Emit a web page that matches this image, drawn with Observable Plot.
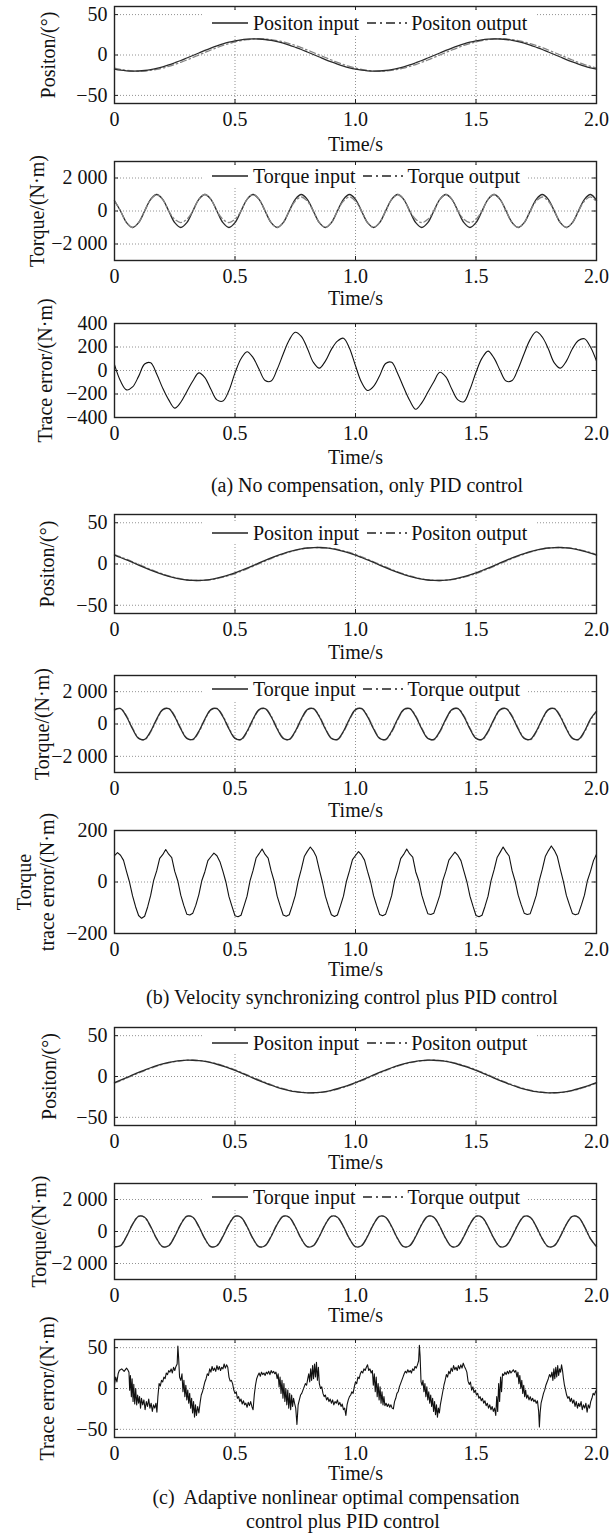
<!DOCTYPE html>
<html><head><meta charset="utf-8">
<script src="https://cdn.jsdelivr.net/npm/d3@7"></script>
<script src="https://cdn.jsdelivr.net/npm/@observablehq/plot@0.6"></script>
<style>
body{margin:0;background:#fff;}
#fig{position:relative;width:614px;height:1535px;overflow:hidden;background:#fff;font-family:"Liberation Serif","Times New Roman",Times,serif;color:#111;}
#fig svg{position:absolute;left:0;}
#fig svg text{font-family:"Liberation Serif","Times New Roman",Times,serif;}
.legend{position:absolute;background:#fff;font-size:20px;line-height:22px;height:22px;display:flex;align-items:center;white-space:nowrap;padding:0 8px;}
.legend svg{position:static !important;}
.caption{position:absolute;font-size:20px;line-height:22px;white-space:pre;transform:translateX(-50%);}
</style></head><body><div id="fig"></div>
<script>
// ---------- tick values / labels ----------
const xTicks = [0, 0.5, 1.0, 1.5, 2.0];
const xTickLabels = ["0", "0.5", "1.0", "1.5", "2.0"];
const posTicks = [-50, 0, 50];
const torqueTicks = [-2000, 0, 2000];
const errTicksA = [-400, -200, 0, 200, 400];
const errTicksB = [-200, 0, 200];
const errTicksC = [-50, 0, 50];

// sample times (s)
const sampleTimes = d3.range(81).map(i => +(i * 0.025).toFixed(4));
const fineTimes = d3.range(161).map(i => +(i * 0.0125).toFixed(4));

// ---------- (a) no compensation ----------
const posInA = [-17.5,-18.8,-19.6,-20,-19.8,-19.2,-18.1,-16.5,-14.6,-12.3,-9.6,-6.8,-3.7,-0.6,2.5,5.6,8.5,11.2,13.7,15.8,17.5,18.8,19.6,20,19.8,19.2,18.1,16.5,14.6,12.3,9.6,6.8,3.7,0.6,-2.5,-5.6,-8.5,-11.2,-13.7,-15.8,-17.5,
 -18.8,-19.6,-20,-19.8,-19.2,-18.1,-16.5,-14.6,-12.3,-9.6,-6.8,-3.7,-0.6,2.5,5.6,8.5,11.2,13.7,15.8,17.5,18.8,19.6,20,19.8,19.2,18.1,16.5,14.6,12.3,9.6,6.8,3.7,0.6,-2.5,-5.6,-8.5,-11.2,-13.7,-15.8,-17.5];
const posOutA = [-16.2,-17.8,-19.0,-19.8,-20,-19.8,-19.0,-17.8,-16.2,-14.1,-11.8,-9.1,-6.2,-3.1,0,3.1,6.2,9.1,11.8,14.1,16.2,17.8,19.0,19.8,20,19.8,19.0,17.8,16.2,14.1,11.8,9.1,6.2,3.1,0,-3.1,-6.2,-9.1,-11.8,-14.1,-16.2,
 -17.8,-19.0,-19.8,-20,-19.8,-19.0,-17.8,-16.2,-14.1,-11.8,-9.1,-6.2,-3.1,0,3.1,6.2,9.1,11.8,14.1,16.2,17.8,19.0,19.8,20,19.8,19.0,17.8,16.2,14.1,11.8,9.1,6.2,3.1,0,-3.1,-6.2,-9.1,-11.8,-14.1,-16.2];
const torqueInA = [620,0,-707,-1000,-707,0,707,1000, 707,0,-707,-1000,-707,0,707,1000, 707,0,-707,-1000,-707,0,707,1000, 707,0,-707,-1000,-707,0,707,1000, 707,0,-707,-1000,-707,0,707,1000,
 707,0,-707,-1000,-707,0,707,1000, 707,0,-707,-1000,-707,0,707,1000, 707,0,-707,-1000,-707,0,707,1000, 707,0,-707,-1000,-707,0,707,1000, 707,0,-707,-1000,-707,0,707,1000, 640];
const torqueOutA = [620,0,-707,-1000,-707,0,707,1000, 707,0,-500,-700,-500,0,707,1000, 707,0,-500,-700,-500,0,707,1000, 707,0,-707,-1000,-707,0,600,850, 600,0,-707,-1000,-707,0,600,850,
 600,0,-707,-1000,-707,0,707,1000, 707,0,-500,-700,-500,0,707,1000, 707,0,-500,-700,-500,0,707,1000, 707,0,-707,-1000,-707,0,600,850, 600,0,-707,-1000,-707,0,600,850, 560];
const errA = [50,-90,-165,-140,-50,55,65,-30,-150,-250,-320,-270,-180,-90,-20,-60,-160,-250,-260,-170,-20,100,160,110,10,-85,-90,10,140,260,325,290,190,70,20,80,180,250,275,190,40,
 -100,-170,-135,-45,60,70,-25,-145,-255,-330,-275,-185,-95,-15,-55,-160,-250,-265,-160,-15,105,165,105,0,-90,-85,15,145,265,330,285,185,65,20,80,185,255,270,200,80];

// ---------- (b) velocity synchronizing ----------
const posInB = [10.7,7.9,5.0,1.9,-1.3,-4.4,-7.4,-10.2,-12.7,-15.0,-16.9,-18.4,-19.4,-19.9,-20.0,-19.5,-18.6,-17.2,-15.4,-13.2,-10.7,-7.9,-5.0,-1.9,1.3,4.4,7.4,10.2,12.7,15.0,16.9,18.4,19.4,19.9,20.0,19.5,18.6,17.2,15.4,13.2,10.7,
 7.9,5.0,1.9,-1.3,-4.4,-7.4,-10.2,-12.7,-15.0,-16.9,-18.4,-19.4,-19.9,-20.0,-19.5,-18.6,-17.2,-15.4,-13.2,-10.7,-7.9,-5.0,-1.9,1.3,4.4,7.4,10.2,12.7,15.0,16.9,18.4,19.4,19.9,20.0,19.5,18.6,17.2,15.4,13.2,10.7];
const posOutB = [11.4,8.7,5.8,2.7,-0.5,-3.6,-6.6,-9.4,-12.0,-14.4,-16.4,-18.0,-19.2,-19.8,-20.0,-19.7,-19.0,-17.8,-16.0,-14.0,-11.6,-8.8,-5.9,-2.8,0.4,3.5,6.6,9.4,12.0,14.4,16.4,18.0,19.2,19.8,20.0,19.7,19.0,17.8,16.0,14.0,11.5,
 8.7,5.8,2.7,-0.5,-3.6,-6.6,-9.4,-12.0,-14.4,-16.4,-18.0,-19.2,-19.8,-20.0,-19.7,-19.0,-17.8,-16.0,-14.0,-11.6,-8.8,-5.9,-2.8,0.4,3.5,6.6,9.4,12.0,14.4,16.4,18.0,19.2,19.8,20.0,19.7,19.0,17.8,16.0,14.0,11.5];
const torqueInB = [890,950,450,-310,-890,-950,-450,310, 890,950,450,-310,-890,-950,-450,310, 890,950,450,-310,-890,-950,-450,310, 890,950,450,-310,-890,-950,-450,310, 890,950,450,-310,-890,-950,-450,310,
 890,950,450,-310,-890,-950,-450,310, 890,950,450,-310,-890,-950,-450,310, 890,950,450,-310,-890,-950,-450,310, 890,950,450,-310,-890,-950,-450,310, 890,950,450,-310,-890,-950,-450,310, 800];
const torqueOutB = [860,960,500,-250,-860,-980,-500,250, 860,960,500,-250,-860,-980,-500,250, 860,960,500,-250,-860,-980,-500,250, 860,960,500,-250,-860,-980,-500,250, 860,960,500,-250,-860,-980,-500,250,
 860,960,500,-250,-860,-980,-500,250, 860,960,500,-250,-860,-980,-500,250, 860,960,500,-250,-860,-980,-500,250, 860,960,500,-250,-860,-980,-500,250, 860,960,500,-250,-860,-980,-500,250, 760];
const errB = [102,114,104,84,40,-1,-54,-96,-130,-141,-133,-97,-52,6,43,92,
 106,126,108,95,41,5,-51,-91,-125,-128,-121,-90,-49,6,40,83,
 98,112,102,79,41,-1,-57,-95,-131,-135,-129,-93,-55,5,45,93,
 110,128,107,93,43,3,-55,-93,-128,-133,-127,-92,-53,5,49,99,
 119,136,121,98,47,1,-55,-93,-127,-134,-128,-93,-55,3,43,87,
 103,118,105,85,41,1,-53,-91,-126,-131,-125,-91,-53,7,45,91,
 107,128,109,97,39,5,-51,-89,-123,-126,-121,-87,-51,6,42,85,
 101,116,103,83,41,0,-55,-94,-130,-135,-129,-94,-55,5,47,95,
 115,136,117,101,43,3,-51,-88,-121,-126,-123,-89,-52,5,49,99,
 121,140,123,99,49,2,-52,-88,-122,-127,-123,-89,-51,6,41,83,
 108];

// ---------- (c) adaptive nonlinear optimal compensation ----------
const posInC = [-7.4,-4.4,-1.3,1.9,5.0,7.9,10.7,13.2,15.4,17.2,18.6,19.5,20.0,19.9,19.4,18.4,16.9,15.0,12.7,10.2,7.4,4.4,1.3,-1.9,-5.0,-7.9,-10.7,-13.2,-15.4,-17.2,-18.6,-19.5,-20.0,-19.9,-19.4,-18.4,-16.9,-15.0,-12.7,-10.2,-7.4,
 -4.4,-1.3,1.9,5.0,7.9,10.7,13.2,15.4,17.2,18.6,19.5,20.0,19.9,19.4,18.4,16.9,15.0,12.7,10.2,7.4,4.4,1.3,-1.9,-5.0,-7.9,-10.7,-13.2,-15.4,-17.2,-18.6,-19.5,-20.0,-19.9,-19.4,-18.4,-16.9,-15.0,-12.7,-10.2,-7.4];
const posOutC = [-8.0,-5.2,-2.1,1.1,4.2,7.2,10.0,12.6,14.9,16.8,18.3,19.3,19.9,20.0,19.6,18.8,17.4,15.6,13.4,11.0,8.2,5.2,2.1,-1.1,-4.2,-7.2,-10.0,-12.6,-14.9,-16.8,-18.3,-19.3,-19.9,-20.0,-19.6,-18.8,-17.4,-15.6,-13.4,-11.0,-8.0,
 -5.2,-2.1,1.1,4.2,7.2,10.0,12.6,14.9,16.8,18.3,19.3,19.9,20.0,19.6,18.8,17.4,15.6,13.4,11.0,8.2,5.2,2.1,-1.1,-4.2,-7.2,-10.0,-12.6,-14.9,-16.8,-18.3,-19.3,-19.9,-20.0,-19.6,-18.8,-17.4,-15.6,-13.4,-11.0,-8.0];
const torqueInC = [-950,-890,-310,450,950,890,310,-450, -950,-890,-310,450,950,890,310,-450, -950,-890,-310,450,950,890,310,-450, -950,-890,-310,450,950,890,310,-450, -950,-890,-310,450,950,890,310,-450,
 -950,-890,-310,450,950,890,310,-450, -950,-890,-310,450,950,890,310,-450, -950,-890,-310,450,950,890,310,-450, -950,-890,-310,450,950,890,310,-450, -950,-890,-310,450,950,890,310,-450, -950];
const torqueOutC = [-960,-870,-280,470,960,880,290,-470, -960,-870,-280,470,960,880,290,-470, -960,-870,-280,470,960,880,290,-470, -960,-870,-280,470,960,880,290,-470, -960,-870,-280,470,960,880,290,-470,
 -960,-870,-280,470,960,880,290,-470, -960,-870,-280,470,960,880,290,-470, -960,-870,-280,470,960,880,290,-470, -960,-870,-280,470,960,880,290,-470, -960,-870,-280,470,960,880,290,-470, -960];
// [time, error]
const errC = [[0,5],[0.005,14],[0.01,8],[0.015,18],[0.02,22],[0.03,24],[0.04,21],[0.05,25],[0.055,23],
 [0.06,20],[0.063,-2],[0.066,16],[0.07,-10],[0.073,12],[0.077,-16],[0.08,5],[0.084,-19],[0.088,0],[0.092,-20],
 [0.096,-8],[0.1,-18],[0.104,-10],[0.108,-24],[0.112,-12],[0.117,-20],[0.122,-14],[0.127,-26],[0.132,-16],[0.137,-22],[0.142,-13],[0.147,-24],[0.152,-18],[0.157,-28],[0.162,-20],[0.167,-24],[0.172,-18],[0.176,-29],
 [0.18,-10],[0.185,6],[0.19,3],[0.195,10],[0.2,8],[0.205,14],[0.21,12],[0.215,19],[0.22,17],[0.225,22],[0.23,20],[0.235,24],[0.24,19],[0.245,26],[0.25,22],[0.255,27],[0.26,30],[0.263,52],[0.266,38],[0.27,14],[0.275,10],
 [0.28,18],[0.284,-4],[0.288,10],[0.292,-10],[0.296,4],[0.3,-14],[0.304,-2],[0.308,-18],[0.312,-6],[0.316,-24],[0.32,-12],[0.324,-30],[0.328,-16],[0.332,-35],[0.336,-20],[0.34,-33],[0.345,-22],[0.35,-30],
 [0.355,-18],[0.36,-8],[0.365,-4],[0.37,2],[0.375,8],[0.38,12],[0.385,18],[0.39,16],[0.395,24],[0.4,20],[0.405,27],[0.41,22],[0.415,25],[0.42,21],[0.425,28],[0.43,23],[0.435,27],[0.44,22],[0.445,26],[0.45,24],[0.455,30],[0.46,25],[0.465,29],[0.47,26],[0.475,14],[0.48,9],
 [0.485,10],[0.49,6],[0.495,-2],[0.5,-6],[0.505,-4],[0.51,-12],[0.515,-10],[0.52,-16],[0.525,-13],[0.53,-19],[0.535,-15],[0.54,-20],[0.545,-18],[0.55,-23],[0.555,-17],[0.56,-21],[0.565,-16],[0.57,-22],[0.575,-26],
 [0.58,-8],[0.585,4],[0.59,12],[0.595,16],[0.6,19],[0.605,15],[0.61,20],[0.615,17],[0.62,19],[0.625,16],[0.63,20],[0.635,18],[0.64,21],[0.645,17],[0.65,22],[0.655,19],[0.66,21],[0.665,18],[0.67,20],
 [0.675,12],[0.679,18],[0.683,2],[0.687,14],[0.691,-6],[0.695,10],[0.699,-12],[0.703,6],[0.707,-16],[0.711,0],[0.715,-20],[0.719,-2],[0.723,-24],[0.727,-6],[0.731,-26],[0.735,-8],[0.739,-22],[0.743,-12],[0.747,-18],[0.752,-24],[0.757,-44],[0.762,-20],
 [0.767,-14],[0.772,-8],[0.777,-6],[0.782,-2],[0.787,2],[0.792,6],[0.797,4],[0.802,12],[0.806,18],
 [0.81,8],[0.814,24],[0.818,10],[0.822,28],[0.826,12],[0.83,30],[0.834,14],[0.838,32],[0.842,10],[0.846,26],[0.85,6],
 [0.855,0],[0.86,2],[0.865,-6],[0.87,-10],[0.875,-8],[0.88,-14],[0.885,-11],[0.89,-16],[0.895,-13],[0.9,-18],[0.905,-14],[0.91,-20],[0.915,-16],[0.92,-18],[0.925,-14],[0.93,-20],[0.935,-17],[0.94,-22],[0.945,-19],[0.95,-26],[0.955,-24],[0.96,-33],[0.965,-20],[0.97,-14],[0.975,-10],[0.98,-8],[0.985,-4],[0.99,-6],
 [0.995,2],[1.0,8],[1.005,6],[1.01,14],[1.015,12],[1.02,18],[1.025,21],[1.03,19],[1.035,24],[1.04,22],[1.045,26],[1.05,29],[1.055,22],[1.06,24],[1.065,19],
 [1.07,22],[1.074,4],[1.078,18],[1.082,-4],[1.086,14],[1.09,-10],[1.094,6],[1.098,-14],[1.102,2],[1.106,-18],[1.11,-4],[1.114,-20],[1.118,-10],
 [1.122,-21],[1.127,-18],[1.132,-22],[1.137,-19],[1.142,-23],[1.147,-20],[1.152,-24],[1.157,-25],
 [1.162,-16],[1.167,-12],[1.172,-6],[1.177,-4],[1.182,2],[1.187,6],[1.192,10],[1.197,14],[1.202,18],[1.207,21],[1.212,19],[1.217,23],[1.222,20],[1.227,22],[1.232,19],[1.237,24],[1.242,22],[1.247,27],[1.252,25],[1.257,29],[1.262,34],[1.265,53],[1.268,40],[1.272,8],[1.276,4],
 [1.28,10],[1.284,-4],[1.288,6],[1.292,-10],[1.296,2],[1.3,-14],[1.304,-4],[1.308,-18],[1.312,-8],[1.316,-22],[1.32,-12],[1.324,-28],[1.328,-16],[1.332,-32],[1.336,-20],[1.34,-35],[1.344,-24],[1.348,-30],
 [1.352,-20],[1.357,-12],[1.362,-4],[1.367,4],[1.372,10],[1.377,17],[1.382,14],[1.387,21],[1.392,18],[1.397,25],[1.402,21],[1.407,28],[1.412,23],[1.417,26],[1.422,22],[1.427,28],[1.432,24],[1.437,29],[1.442,25],[1.447,31],[1.452,27],[1.457,24],[1.462,20],[1.467,9],[1.472,5],[1.477,8],[1.482,-2],[1.487,2],[1.492,-5],[1.497,-2],
 [1.502,-8],[1.507,-6],[1.512,-12],[1.517,-10],[1.522,-15],[1.527,-12],[1.532,-18],[1.537,-15],[1.542,-21],[1.547,-18],[1.552,-24],[1.557,-20],[1.562,-26],[1.567,-22],[1.572,-28],[1.577,-24],[1.582,-33],
 [1.586,-10],[1.59,-28],[1.594,6],[1.598,-16],[1.602,14],[1.606,-4],[1.61,18],
 [1.615,16],[1.62,20],[1.625,17],[1.63,21],[1.635,18],[1.64,22],[1.645,19],[1.65,21],[1.655,23],[1.66,20],[1.665,22],
 [1.67,14],[1.674,20],[1.678,6],[1.682,16],[1.686,0],[1.69,10],[1.694,-6],[1.698,4],[1.702,-10],[1.706,-2],[1.71,-12],[1.715,-8],[1.72,-14],[1.725,-10],[1.73,-15],[1.735,-12],[1.74,-16],[1.745,-14],[1.75,-18],[1.755,-15],[1.76,-28],[1.763,-47],[1.766,-30],[1.77,-18],
 [1.775,-12],[1.78,-6],[1.785,-2],[1.79,4],[1.795,8],[1.8,12],[1.805,17],[1.81,14],
 [1.815,20],[1.819,10],[1.823,24],[1.827,12],[1.831,26],[1.835,14],[1.839,28],[1.843,16],[1.847,24],[1.851,20],[1.855,29],[1.859,22],[1.863,12],[1.867,4],[1.871,-1],
 [1.876,-8],[1.881,-12],[1.886,-10],[1.891,-16],[1.896,-12],[1.901,-18],[1.906,-14],[1.911,-22],[1.916,-16],[1.921,-24],[1.926,-18],[1.931,-22],[1.936,-16],[1.941,-26],[1.946,-20],[1.951,-24],[1.956,-18],[1.961,-29],[1.966,-20],[1.971,-24],[1.976,-16],[1.981,-12],[1.986,-6],[1.991,-8],[1.996,-4],[2.0,-2]];

// ---------- drawing ----------
const FONT = '"Liberation Serif","Times New Roman",Times,serif';
const fig = document.getElementById("fig");
const ML = 114, MR = 18, MT = 4, MB = 64, W = 614;
const plotW = W - ML - MR;
const fmtX = d => xTickLabels[xTicks.indexOf(d)];
const fmtY = d => (d < 0 ? "\u2212" : "") + (Math.abs(d) >= 1000 ? d3.format(",")(Math.abs(d)).replace(",", " ") : String(Math.abs(d)));
const IN_STYLE = {stroke: "#2b2b2b", strokeWidth: 1.3};
const OUT_STYLE = {stroke: "#858585", strokeWidth: 1.3, strokeDasharray: "6,3,1.5,3"};
const ERR_STYLE = {stroke: "#111", strokeWidth: 1.1};

function toRows(times, values) { return values.map((v, i) => ({t: times[i], v})); }

function panel(cfg) {
  const gridStyle = {stroke: "#777", strokeOpacity: 1, strokeDasharray: "1,2", strokeWidth: 0.8};
  const lines = cfg.series.map(s => Plot.line(toRows(s.times, s.values), {x: "t", y: "v", curve: s.curve || "catmull-rom", ...s.style}));
  const svg = Plot.plot({
    width: W, height: MT + cfg.boxH + MB,
    marginLeft: ML, marginRight: MR, marginTop: MT, marginBottom: MB,
    style: {fontFamily: FONT, fontSize: "20px", background: "transparent", color: "#111", overflow: "visible"},
    x: {domain: [0, 2]},
    y: {domain: cfg.yDomain},
    marks: [
      Plot.gridX(xTicks.slice(1, 4), gridStyle),
      Plot.gridY(cfg.yTicks, gridStyle),
      ...lines,
      Plot.frame({stroke: "#222", strokeWidth: 1.4}),
      Plot.tickX(xTicks, {x: d => d, insetTop: cfg.boxH - 4, stroke: "#222"}),
      Plot.tickX(xTicks, {x: d => d, insetBottom: cfg.boxH - 4, stroke: "#222"}),
      Plot.tickY(cfg.yTicks, {y: d => d, insetRight: plotW - 4, stroke: "#222"}),
      Plot.tickY(cfg.yTicks, {y: d => d, insetLeft: plotW - 4, stroke: "#222"}),
      Plot.axisX(xTicks, {tickSize: 0, tickPadding: 8, tickFormat: fmtX, label: null, fontSize: 20}),
      Plot.axisY(cfg.yTicks, {tickSize: 0, tickPadding: 7, tickFormat: fmtY, label: null, fontSize: 20}),
      Plot.text([cfg.ylabel], {frameAnchor: "left", dx: cfg.ylabelDx, rotate: -90, textAnchor: "middle", lineAnchor: "middle", lineHeight: 1.15, fontSize: 20, fill: "#111"}),
      Plot.text(["Time/s"], {frameAnchor: "bottom", dy: cfg.timeDy, lineAnchor: "middle", fontSize: 20, fill: "#111"})
    ]
  });
  svg.style.top = (cfg.top - MT) + "px";
  fig.appendChild(svg);
  if (cfg.legend) {
    const lg = document.createElement("div");
    lg.className = "legend";
    lg.style.left = "204px";
    lg.style.top = (cfg.legend.y - 11) + "px";
    lg.innerHTML =
      `<svg width="36" height="10"><line x1="0" y1="5" x2="36" y2="5" stroke="#222" stroke-width="1.3"/></svg>` +
      `<span style="margin-left:5px">${cfg.legend.a}</span>` +
      `<svg width="40" height="10" style="margin-left:8px"><line x1="0" y1="5" x2="40" y2="5" stroke="#222" stroke-width="1.3" stroke-dasharray="9,4,2,4"/></svg>` +
      `<span style="margin-left:4px">${cfg.legend.b}</span>`;
    fig.appendChild(lg);
  }
}

function caption(text, cx, cy) {
  const d = document.createElement("div");
  d.className = "caption";
  d.textContent = text;
  d.style.left = cx + "px";
  d.style.top = (cy - 11) + "px";
  fig.appendChild(d);
}

const posLegend = {a: "Positon input", b: "Positon output"};
const torqueLegend = {a: "Torque input", b: "Torque output"};
// output drawn first so the solid input stays on top where both coincide
panel({top: 6, boxH: 97, yDomain: [-60, 60], yTicks: posTicks, ylabel: "Positon/(°)", ylabelDx: -67, timeDy: 41,
  series: [{times: sampleTimes, values: posOutA, style: OUT_STYLE}, {times: sampleTimes, values: posInA, style: IN_STYLE}],
  legend: {...posLegend, y: 23}});
panel({top: 161, boxH: 99, yDomain: [-3000, 3000], yTicks: torqueTicks, ylabel: "Torque/(N·m)", ylabelDx: -78, timeDy: 38,
  series: [{times: sampleTimes, values: torqueInA, style: IN_STYLE}, {times: sampleTimes, values: torqueOutA, style: OUT_STYLE}],
  legend: {...torqueLegend, y: 176}});
panel({top: 323, boxH: 94, yDomain: [-400, 400], yTicks: errTicksA, ylabel: "Trace error/(N·m)", ylabelDx: -70, timeDy: 40,
  series: [{times: sampleTimes, values: errA, style: ERR_STYLE}]});
caption("(a) No compensation, only PID control", 367, 485);

panel({top: 514, boxH: 99, yDomain: [-60, 60], yTicks: posTicks, ylabel: "Positon/(°)", ylabelDx: -68, timeDy: 39,
  series: [{times: sampleTimes, values: posOutB, style: OUT_STYLE}, {times: sampleTimes, values: posInB, style: IN_STYLE}],
  legend: {...posLegend, y: 533}});
panel({top: 675, boxH: 97, yDomain: [-3000, 3000], yTicks: torqueTicks, ylabel: "Torque/(N·m)", ylabelDx: -73, timeDy: 38,
  series: [{times: sampleTimes, values: torqueOutB, style: OUT_STYLE}, {times: sampleTimes, values: torqueInB, style: IN_STYLE}],
  legend: {...torqueLegend, y: 689}});
panel({top: 830, boxH: 103, yDomain: [-200, 200], yTicks: errTicksB, ylabel: "Torque\ntrace error/(N·m)", ylabelDx: -79, timeDy: 36,
  series: [{times: fineTimes, values: errB, style: ERR_STYLE, curve: "linear"}]});
caption("(b) Velocity synchronizing control plus PID control", 352, 997);

panel({top: 1027, boxH: 98, yDomain: [-60, 60], yTicks: posTicks, ylabel: "Positon/(°)", ylabelDx: -66, timeDy: 37,
  series: [{times: sampleTimes, values: posOutC, style: OUT_STYLE}, {times: sampleTimes, values: posInC, style: IN_STYLE}],
  legend: {...posLegend, y: 1043}});
panel({top: 1183, boxH: 96, yDomain: [-3000, 3000], yTicks: torqueTicks, ylabel: "Torque/(N·m)", ylabelDx: -76, timeDy: 36,
  series: [{times: sampleTimes, values: torqueOutC, style: OUT_STYLE}, {times: sampleTimes, values: torqueInC, style: IN_STYLE}],
  legend: {...torqueLegend, y: 1197}});
panel({top: 1339, boxH: 98, yDomain: [-60, 60], yTicks: errTicksC, ylabel: "Trace error/(N·m)", ylabelDx: -68, timeDy: 36,
  series: [{times: errC.map(d => d[0]), values: errC.map(d => d[1]), style: ERR_STYLE, curve: "linear"}]});
caption("(c)  Adaptive nonlinear optimal compensation", 336, 1497);
caption("control plus PID control", 343, 1521);
</script></body></html>
